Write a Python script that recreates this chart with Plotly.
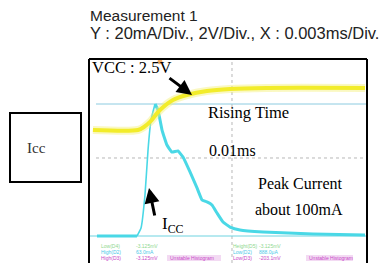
import plotly.graph_objects as go

# ---- data ----
# time axis in microseconds (0.003 ms/div), 0 = screen centre
t_icc = [-15.05, -10.59, -10.14, -9.70, -9.36, -9.03, -8.58, -8.25, -7.80, -7.25,
         -6.69, -6.02, -5.46, -4.68, -3.90, -3.34, -2.79, -2.23, -1.67, -1.00,
         -0.22, 0.89, 3.46, 9.03, 14.83]
i_icc = [0, 0, 6.1, 31.1, 65.2, 87.9, 100.0, 95.5, 80.3, 68.9,
         63.6, 64.4, 59.8, 48.5, 36.4, 27.3, 25.8, 23.5, 17.4, 10.6,
         6.8, 4.5, 3.0, 1.5, 0.8]          # mA
rise_start, rise_end = 1, 6   # indices of the fast rising edge (drawn thin)

t_vcc = [-15.50, -10.48, -9.81, -9.14, -8.03, -6.58, -5.02, -2.79, -0.22, 3.90, 14.83]
v_vcc = [0, 0, 0.18, 0.48, 1.19, 1.79, 2.08, 2.32, 2.44, 2.5, 2.5]   # V

high_level_ma = 100.0
low_level_ma = 0.0
grid_centre_ma = 59.1
trigger_us = -8.03

status_rows = [
    ["Low(D4)", "-3.125mV", "", "Height(D5)", "-3.125mV", ""],
    ["High(D2)", "63.0mA", "", "Low(D2)", "888.0\u03bcA", ""],
    ["High(D3)", "-3.125mV", "Unstable Histogram", "Low(D3)", "-203.1mV", "Unstable Histogram"],
]
status_colors = ["#8fd88f", "#4cc8e8", "#c848c8"]

# ---- layout helpers (pixel -> paper) ----
W, H = 384, 263
L, R, T, B = 89, 17, 59, 0
PW, PH = W - L - R, H - T - B


def px(x):
    return (x - L) / PW


def py(y):
    return (H - B - y) / PH


fig = go.Figure()

CYAN = "#4ad8e6"

# yellow glow + trace
fig.add_trace(go.Scatter(x=t_vcc, y=v_vcc, yaxis="y2", mode="lines",
                         line=dict(color="rgba(245,240,120,0.45)", width=8, shape="spline", smoothing=0.8),
                         hoverinfo="skip", showlegend=False))
fig.add_trace(go.Scatter(x=t_vcc, y=v_vcc, yaxis="y2", mode="lines",
                         line=dict(color="#f2ec2a", width=4, shape="spline", smoothing=0.8),
                         showlegend=False))
# cyan current trace: baseline, thin fast edge, rest
fig.add_trace(go.Scatter(x=t_icc[:rise_start + 1], y=i_icc[:rise_start + 1], mode="lines",
                         line=dict(color=CYAN, width=3), showlegend=False))
fig.add_trace(go.Scatter(x=t_icc[rise_start:rise_end + 1], y=i_icc[rise_start:rise_end + 1], mode="lines",
                         line=dict(color=CYAN, width=1.6, shape="spline", smoothing=0.3), showlegend=False))
fig.add_trace(go.Scatter(x=t_icc[rise_end:], y=i_icc[rise_end:], mode="lines",
                         line=dict(color=CYAN, width=3, shape="spline", smoothing=0.3), showlegend=False))
# trigger marker
fig.add_trace(go.Scatter(x=[trigger_us], y=[132], mode="markers",
                         marker=dict(color="#f0a860", size=5, symbol="circle"),
                         showlegend=False))

shapes = []
# grid centre lines
shapes.append(dict(type="line", xref="x", yref="paper", x0=0, x1=0, y0=0, y1=1,
                   line=dict(color="#b8b8b8", width=1, dash="dot"), layer="below"))
shapes.append(dict(type="line", xref="paper", yref="y", x0=px(96), x1=1, y0=grid_centre_ma, y1=grid_centre_ma,
                   line=dict(color="#b8b8b8", width=1, dash="dot"), layer="below"))
# level cursors
shapes.append(dict(type="line", xref="paper", yref="y", x0=px(96), x1=1, y0=high_level_ma, y1=high_level_ma,
                   line=dict(color="#8ccbe0", width=1), layer="below"))
shapes.append(dict(type="line", xref="paper", yref="y", x0=0, x1=1, y0=low_level_ma, y1=low_level_ma,
                   line=dict(color="#6fd3e0", width=1), layer="below"))
# scope frame (left, top, right)
for x0, y0, x1, y1 in [(0, 0, 0, 1), (0, 1, 1, 1), (1, 0, 1, 1)]:
    shapes.append(dict(type="line", xref="paper", yref="paper", x0=x0, y0=y0, x1=x1, y1=y1,
                       line=dict(color="black", width=2)))
# Icc box
shapes.append(dict(type="rect", xref="paper", yref="paper", x0=px(10), x1=px(81), y0=py(182), y1=py(113),
                   line=dict(color="black", width=2)))
# magenta status boxes
shapes.append(dict(type="rect", xref="paper", yref="paper", x0=px(167), x1=px(221), y0=py(261), y1=py(255),
                   fillcolor="rgba(220,150,220,0.35)", line=dict(width=0), layer="below"))
shapes.append(dict(type="rect", xref="paper", yref="paper", x0=px(306), x1=px(353), y0=py(261), y1=py(255),
                   fillcolor="rgba(220,150,220,0.35)", line=dict(width=0), layer="below"))

SANS = "Liberation Sans, Arial, sans-serif"
SERIF = "Liberation Serif, Times New Roman, serif"

ann = []


def text(x, y, s, size, family, color="black", xanchor="left"):
    ann.append(dict(x=px(x), y=py(y), xref="paper", yref="paper", text=s, showarrow=False,
                    xanchor=xanchor, yanchor="middle", borderpad=0,
                    font=dict(size=size, family=family, color=color)))


text(89, 15, "Measurement 1", 15.5, SANS, "#222")
text(89, 33, "Y : 20mA/Div., 2V/Div., X : 0.003ms/Div.", 16.5, SANS, "#222")
text(91, 67, "VCC : 2.5V", 16.5, SERIF)
text(207, 113, "Rising Time", 16.5, SERIF)
text(208, 150, "0.01ms", 16, SERIF)
text(300, 183, "Peak Current", 16, SERIF, xanchor="center")
text(299, 209, "about 100mA", 16, SERIF, xanchor="center")
text(161, 225, "I<sub>CC</sub>", 17, SERIF)
text(36, 148, "Icc", 15, SERIF, "#333", xanchor="center")

cols = [100, 135, 169, 232, 258, 308]
rows_y = [246, 252, 258]
for r, row in enumerate(status_rows):
    for c, s in enumerate(row):
        if s:
            text(cols[c], rows_y[r], s, 5, SANS, status_colors[r])

# arrows (head position, tail offset in px)
for hx, hy, tx, ty in [(192, 95, 168, 77), (149, 188, 155, 217)]:
    ann.append(dict(x=px(hx), y=py(hy), xref="paper", yref="paper", ax=tx - hx, ay=ty - hy,
                    axref="pixel", ayref="pixel", text="", showarrow=True,
                    arrowhead=2, arrowsize=1.0, arrowwidth=3, arrowcolor="black"))

fig.update_layout(
    width=W, height=H, margin=dict(l=L, r=R, t=T, b=B, pad=0),
    paper_bgcolor="white", plot_bgcolor="white",
    xaxis=dict(range=[-15.94, 15.05], showgrid=False, zeroline=False, showticklabels=False, ticks="", fixedrange=True),
    yaxis=dict(range=[-20.45, 134.09], showgrid=False, zeroline=False, showticklabels=False, ticks="", fixedrange=True),
    yaxis2=dict(range=[-7.917, 4.226], overlaying="y", showgrid=False, zeroline=False, showticklabels=False,
                ticks="", fixedrange=True),
    shapes=shapes, annotations=ann, showlegend=False,
)

fig.write_html("out.html", config={"displayModeBar": False},
               post_script="document.body.style.margin='0';document.body.style.overflow='hidden';")
